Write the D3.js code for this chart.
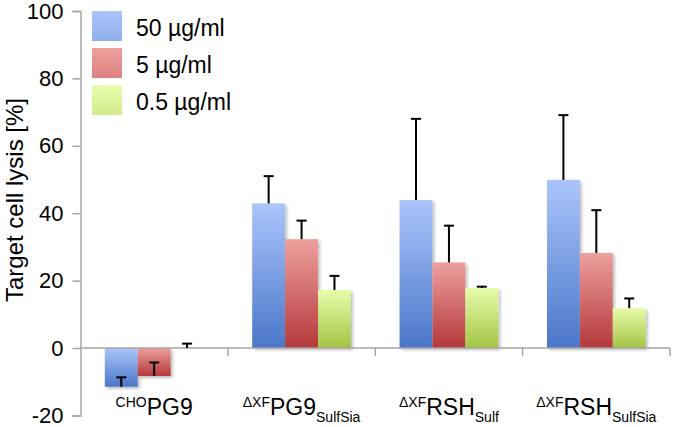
<!DOCTYPE html>
<html>
<head>
<meta charset="utf-8">
<script src="https://cdn.jsdelivr.net/npm/d3@7"></script>
<style>
  html, body { margin: 0; padding: 0; background: #fff; }
  svg { display: block; font-family: "Liberation Sans", Arial, Helvetica, sans-serif; }
</style>
</head>
<body>
<svg id="chart" width="673" height="427"></svg>
<script>
// ---- data ----
const catPre  = ["CHO", "ΔXF", "ΔXF", "ΔXF"];
const catMain = ["PG9", "PG9", "RSH", "RSH"];
const catSub  = ["", "SulfSia", "Sulf", "SulfSia"];
const series = ["50 µg/ml", "5 µg/ml", "0.5 µg/ml"];
const values50  = [-11.5, 42.9, 43.9, 49.9];
const values5   = [-8.3, 32.3, 25.4, 28.2];
const values05  = [0, 17.2, 17.8, 11.8];
const err50  = [2.8, 8.1, 24.1, 19.2];
const err5   = [4.0, 5.5, 10.9, 12.7];
const err05  = [1.3, 4.2, 0.4, 2.9];
const yTicks = [-20, 0, 20, 40, 60, 80, 100];
const yTitle = "Target cell lysis [%]";

const seriesValues = [values50, values5, values05];
const seriesErrors = [err50, err5, err05];
const gradTop = ["#abc5fb", "#eda09e", "#e8fcab"];
const gradBot = ["#4a77c9", "#b5383a", "#a3c444"];

const svg = d3.select("#chart");
const defs = svg.append("defs");
series.forEach((s, i) => {
  const g = defs.append("linearGradient").attr("id", "g" + i)
    .attr("x1", 0).attr("y1", 0).attr("x2", 0).attr("y2", 1);
  g.append("stop").attr("offset", "0%").attr("stop-color", gradTop[i]);
  g.append("stop").attr("offset", "100%").attr("stop-color", gradBot[i]);
  const lg = defs.append("linearGradient").attr("id", "lg" + i)
    .attr("x1", 0).attr("y1", 0).attr("x2", 0).attr("y2", 1);
  lg.append("stop").attr("offset", "0%").attr("stop-color", gradTop[i]);
  lg.append("stop").attr("offset", "100%").attr("stop-color", d3.interpolateRgb(gradTop[i], gradBot[i])(0.3));
});
const f = defs.append("filter").attr("id", "shadow")
  .attr("x", "-20%").attr("y", "-20%").attr("width", "150%").attr("height", "150%");
f.append("feDropShadow").attr("dx", 2).attr("dy", 2).attr("stdDeviation", 1.8)
  .attr("flood-color", "#000").attr("flood-opacity", 0.25);

const x0 = 80.5, x1 = 670;
const y = d3.scaleLinear().domain([-20, 100]).range([415.4, 11]);
const xCat = d3.scaleBand().domain(d3.range(catMain.length)).range([x0, x1]).padding(0);
const bw = xCat.bandwidth();
const xSer = d3.scaleBand().domain(d3.range(series.length))
  .range([bw * 0.165, bw * 0.835]).padding(0);

// Y axis
const yAxis = d3.axisLeft(y).tickValues(yTicks).tickSize(8).tickPadding(9).tickFormat(d => String(d));
const ya = svg.append("g").attr("transform", `translate(${x0},0)`).call(yAxis);
ya.select(".domain").attr("stroke", "#a6a6a6").attr("stroke-width", 1.5);
ya.selectAll(".tick line").attr("stroke", "#a6a6a6").attr("stroke-width", 1.5);
ya.selectAll(".tick text").attr("font-size", 22).attr("fill", "#000")
  .attr("font-family", "'Liberation Sans', Arial, Helvetica, sans-serif");

// Bars
const bars = svg.append("g");
series.forEach((s, si) => {
  catMain.forEach((c, ci) => {
    const v = seriesValues[si][ci];
    const xx = xCat(ci) + xSer(si);
    bars.append("rect")
      .attr("x", xx).attr("width", xSer.bandwidth())
      .attr("y", y(Math.max(0, v)))
      .attr("height", Math.abs(y(v) - y(0)))
      .attr("fill", `url(#g${si})`)
      .attr("filter", v !== 0 ? "url(#shadow)" : null);
  });
});

// X axis line at zero
const xa = svg.append("g");
xa.append("line").attr("x1", x0).attr("x2", x1).attr("y1", y(0)).attr("y2", y(0))
  .attr("stroke", "#a6a6a6").attr("stroke-width", 1.5);
d3.range(1, catMain.length + 1).forEach(i => {
  const xx = i < catMain.length ? xCat(i) : x1;
  xa.append("line").attr("x1", xx).attr("x2", xx).attr("y1", y(0)).attr("y2", y(0) + 8)
    .attr("stroke", "#a6a6a6").attr("stroke-width", 1.5);
});

// Error bars (plus direction)
const eb = svg.append("g").attr("stroke", "#000").attr("stroke-width", 2);
series.forEach((s, si) => {
  catMain.forEach((c, ci) => {
    const v = seriesValues[si][ci];
    const e = seriesErrors[si][ci];
    const cx = xCat(ci) + xSer(si) + xSer.bandwidth() / 2;
    eb.append("line").attr("x1", cx).attr("x2", cx).attr("y1", y(v)).attr("y2", y(v + e));
    eb.append("line").attr("x1", cx - 5).attr("x2", cx + 5).attr("y1", y(v + e)).attr("y2", y(v + e));
  });
});

// Category labels
const lab = svg.append("g").attr("font-size", 23).attr("fill", "#000");
catMain.forEach((c, ci) => {
  const t = lab.append("text").attr("x", xCat(ci) + bw / 2).attr("y", 415)
    .attr("text-anchor", "middle");
  t.append("tspan").attr("font-size", 14).attr("dy", -8).text(catPre[ci]);
  t.append("tspan").attr("dy", 8).text(c);
  if (catSub[ci]) t.append("tspan").attr("font-size", 14).attr("dy", 7).text(catSub[ci]);
});

// Y title
svg.append("text").attr("transform", "translate(23,200) rotate(-90)")
  .attr("text-anchor", "middle").attr("font-size", 24).attr("fill", "#000").text(yTitle);

// Legend
const leg = svg.append("g");
series.forEach((s, i) => {
  const top = 11 + i * 37;
  leg.append("rect").attr("x", 92).attr("y", top).attr("width", 30).attr("height", 30)
    .attr("fill", `url(#lg${i})`);
  leg.append("text").attr("x", 136).attr("y", top + 24.5).attr("font-size", 23)
    .attr("fill", "#000").text(s);
});
</script>
</body>
</html>
